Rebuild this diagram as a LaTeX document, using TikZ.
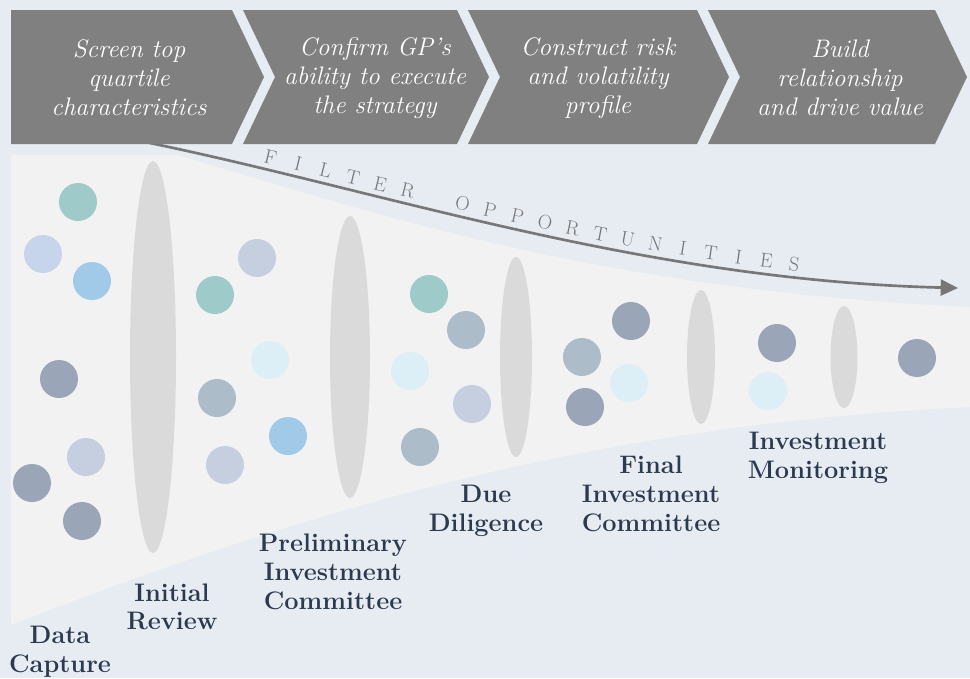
\documentclass[tikz,border=0pt]{standalone}
\usepackage{fontspec}
\usepackage{tikz}
\usetikzlibrary{arrows.meta, positioning, decorations.markings}
\usepackage{xcolor}

\definecolor{bgblue}{HTML}{E7ECF3}
\definecolor{funnelgray}{HTML}{F2F2F2}
\definecolor{chevgray}{HTML}{808080}
\definecolor{filtgray}{HTML}{DADADA}
\definecolor{arrowgray}{HTML}{777777}
\definecolor{lblcol}{HTML}{2B3A4E}
\definecolor{dTeal}{HTML}{9FCACA}
\definecolor{dPeri}{HTML}{C6D5EB}
\definecolor{dBlue}{HTML}{A1CAE8}
\definecolor{dSlate}{HTML}{9AA5B7}
\definecolor{dGray}{HTML}{ADBCC9}
\definecolor{dCyan}{HTML}{DCEFF6}
\definecolor{dLav}{HTML}{C6CFE0}

\tikzset{
	chev/.style={fill=chevgray},
	chevtxt/.style={text=white, align=center, font=\fontsize{19}{21.75}\selectfont\itshape},
	stagelbl/.style={text=lblcol, align=center, font=\fontsize{19}{21.5}\selectfont\bfseries},
	flowarrow/.style={draw=arrowgray, line width=2pt, -{Triangle[length=13pt, width=12pt]}},
	lettr/.style={text=arrowgray, font=\fontsize{15}{17}\selectfont, transform shape}
}

\begin{document}
\begin{tikzpicture}[x=0.75pt, y=-0.75pt]
		% 背景
		\useasboundingbox (0,0) rectangle (970,678);
		\fill[bgblue] (0,0) rectangle (970,678);
		
		% 漏斗
		\fill[funnelgray] (11,155) -- (177,155) .. controls (380,215) and (600,290) .. (970,307)
		-- (970,407) .. controls (620,424) and (341,496) .. (11,625) -- cycle;
		
		% 过滤器
		\foreach \ex/\rx/\ry in {153/23/196, 350/20/141, 516/16/100, 701/14/67, 844/13.5/51}
		\fill[filtgray] (\ex,357) ellipse[x radius=\rx, y radius=\ry];
		
		% 圆点
		\foreach \px/\py/\c in {78/202/dTeal, 43/254/dPeri, 92/281/dBlue, 59/379/dSlate,
			86/457/dLav, 32/483/dSlate, 82/521/dSlate,
			257/258/dLav, 215/295/dTeal, 270/360/dCyan, 217/398/dGray, 288/436/dBlue, 225/465/dLav,
			429/294/dTeal, 466/330/dGray, 410/371/dCyan, 472/404/dLav, 420/447/dGray,
			582/357/dGray, 631/321/dSlate, 629/383/dCyan, 585/407/dSlate,
			777/343/dSlate, 768/391/dCyan,
			917/358/dSlate}
		\fill[\c] (\px,\py) circle[radius=19];
		
		% 箭头
		\coordinate (fstart) at (145,142);
		\coordinate (fend) at (958,288);
		\draw[flowarrow] (fstart) .. controls (380,190) and (640,280) .. (fend);
		
		% 沿箭头的文字
		\foreach \k/\ch in {0/F,1/I,2/L,3/T,4/E,5/R,7/O,8/P,9/P,10/O,11/R,12/T,13/U,14/N,15/I,16/T,17/I,18/E,19/S}{
			\pgfmathsetmacro{\pp}{0.152+0.0341*\k}
			\path[postaction={decorate}, decoration={markings, mark=at position \pp with {\node[lettr] (ch\k) at (0pt,9.5pt) {\ch};}}]
			(fstart) .. controls (380,190) and (640,280) .. (fend);
		}
		
		% 箭形
		\fill[chev] (11,10) -- (232,10) -- (264,77) -- (232,144) -- (11,144) -- cycle;
		\foreach \a/\b in {243/457, 468/697, 708/935}
		\fill[chev] (\a,10) -- (\b,10) -- (\b+32,77) -- (\b,144) -- (\a,144) -- (\a+32,77) -- cycle;
		
		\node[chevtxt] (s1) at (129,78) {Screen top\\quartile\\characteristics};
		\node[chevtxt] (s2) at (375,78) {Confirm GP's\\ability to execute\\the strategy};
		\node[chevtxt] (s3) at (598,78) {Construct risk\\and volatility\\profile};
		\node[chevtxt] (s4) at (840,78) {Build\\relationship\\and drive value};
		
		% 阶段
		\node[stagelbl] (l1) at (60,652) {Data\\Capture};
		\node[stagelbl] (l2) at (172,607) {Initial\\Review};
		\node[stagelbl] (l3) at (333,572) {Preliminary\\Investment\\Committee};
		\node[stagelbl] (l4) at (486,511) {Due\\Diligence};
		\node[stagelbl] (l5) at (651,494) {Final\\Investment\\Committee};
		\node[stagelbl] (l6) at (818,458) {Investment\\Monitoring};
	\end{tikzpicture}
\end{document}
